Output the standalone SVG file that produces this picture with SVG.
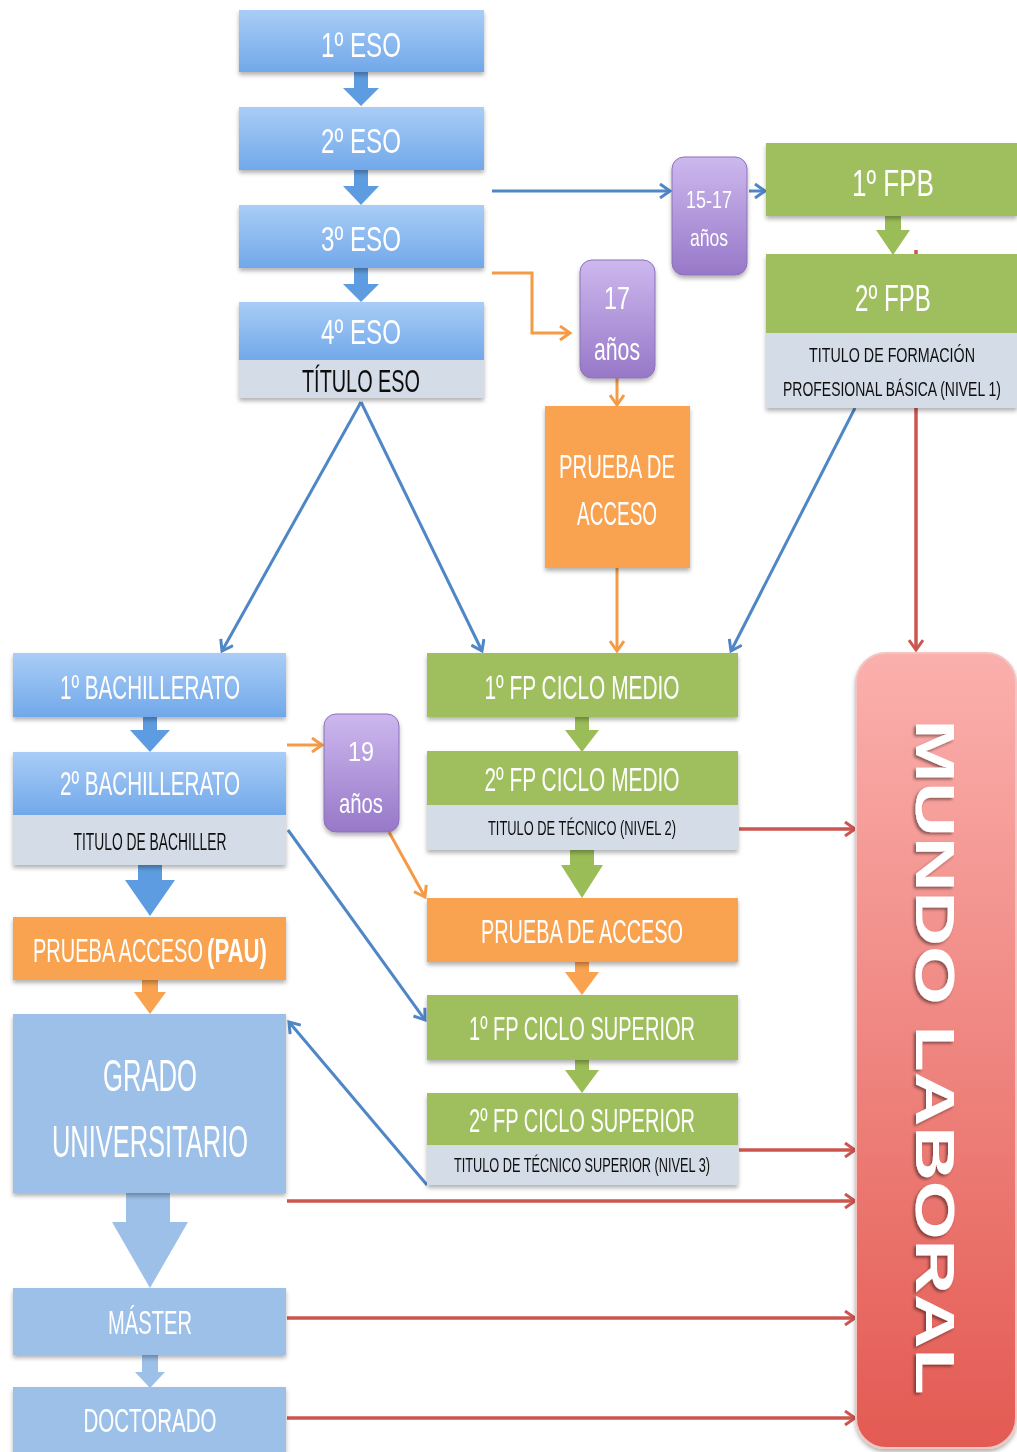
<svg xmlns="http://www.w3.org/2000/svg" width="1017" height="1452" viewBox="0 0 1017 1452">
<defs>
<style>
.t{font-family:"Liberation Sans Narrow","Liberation Sans",Arial,sans-serif;fill:#fff;text-anchor:middle}
.k{font-family:"Liberation Sans Narrow","Liberation Sans",Arial,sans-serif;fill:#111;text-anchor:middle}
.blue{fill:url(#gBlue)}
.flat{fill:#9cc0e8}
.gray{fill:#d3dce7}
.green{fill:#9fbe5d}
.orange{fill:#f9a24f}
.purple{fill:url(#gPurple);stroke:#8c70bb;stroke-width:1}
.cb{fill:none;stroke:#4f86c6;stroke-width:3}
.co{fill:none;stroke:#f59a45;stroke-width:3}
.cr{fill:none;stroke:#cc5550;stroke-width:3.5}
.ab{fill:#5d9ce0}
.ag{fill:#9bbd58}
.ao{fill:#f9a24f}
.af{fill:#9cc0e8}
</style>
<linearGradient id="gBlue" x1="0" y1="0" x2="0" y2="1">
<stop offset="0" stop-color="#a9cdf6"/><stop offset="1" stop-color="#71a8ea"/>
</linearGradient>
<linearGradient id="gPurple" x1="0" y1="0" x2="0" y2="1">
<stop offset="0" stop-color="#cdb8ee"/><stop offset="1" stop-color="#9778c8"/>
</linearGradient>
<linearGradient id="gRed" x1="0" y1="0" x2="0" y2="1">
<stop offset="0" stop-color="#fbb0ad"/><stop offset="1" stop-color="#e35a52"/>
</linearGradient>
<filter id="sh" x="-10%" y="-10%" width="120%" height="130%">
<feDropShadow dx="0" dy="3" stdDeviation="2" flood-color="#000" flood-opacity="0.3"/>
</filter>
<filter id="tsh" x="-10%" y="-10%" width="120%" height="130%">
<feDropShadow dx="2" dy="2" stdDeviation="1.5" flood-color="#000" flood-opacity="0.45"/>
</filter>
<marker id="mb" markerUnits="userSpaceOnUse" viewBox="0 0 16 16" refX="13" refY="8" markerWidth="16" markerHeight="16" orient="auto">
<path d="M3,1 L13,8 L3,15" fill="none" stroke="#4f86c6" stroke-width="3"/>
</marker>
<marker id="mo" markerUnits="userSpaceOnUse" viewBox="0 0 16 16" refX="13" refY="8" markerWidth="16" markerHeight="16" orient="auto">
<path d="M3,1 L13,8 L3,15" fill="none" stroke="#f59a45" stroke-width="3"/>
</marker>
<marker id="mr" markerUnits="userSpaceOnUse" viewBox="0 0 16 16" refX="13" refY="8" markerWidth="16" markerHeight="16" orient="auto">
<path d="M3,1 L13,8 L3,15" fill="none" stroke="#cc5550" stroke-width="3"/>
</marker>
</defs>
<rect width="1017" height="1452" fill="#fff"/>

<g id="connectors">
<path class="cr" d="M916,250 L916,650" marker-end="url(#mr)"/>
<path class="cb" d="M492,191 L670,191" marker-end="url(#mb)"/>
<path class="cb" d="M749,191 L765,191" marker-end="url(#mb)"/>
<path class="co" d="M492,273 L532,273 L532,333 L570,333" marker-end="url(#mo)"/>
<path class="co" d="M617,378 L617,405" marker-end="url(#mo)"/>
<path class="co" d="M617,568 L617,651" marker-end="url(#mo)"/>
<path class="cb" d="M361,402 L222,651" marker-end="url(#mb)"/>
<path class="cb" d="M361,402 L482,651" marker-end="url(#mb)"/>
<path class="cb" d="M855,408 L731,651" marker-end="url(#mb)"/>
<path class="co" d="M287,745 L322,745" marker-end="url(#mo)"/>
<path class="co" d="M389,832 L425,897" marker-end="url(#mo)"/>
<path class="cb" d="M288,830 L425,1020" marker-end="url(#mb)"/>
<path class="cb" d="M427,1185 L289,1022" marker-end="url(#mb)"/>
<path class="cr" d="M739,829 L855,829" marker-end="url(#mr)"/>
<path class="cr" d="M739,1150 L855,1150" marker-end="url(#mr)"/>
<path class="cr" d="M287,1201 L855,1201" marker-end="url(#mr)"/>
<path class="cr" d="M287,1318 L855,1318" marker-end="url(#mr)"/>
<path class="cr" d="M287,1418 L855,1418" marker-end="url(#mr)"/>
</g>

<g id="block-arrows">
<path class="ab" d="M354,72 H368 V88 H379 L361,106 L343,88 H354 Z"/>
<path class="ab" d="M354,170 H368 V186 H379 L361,205 L343,186 H354 Z"/>
<path class="ab" d="M354,268 H368 V284 H379 L361,302 L343,284 H354 Z"/>
<path class="ag" d="M885,216 H901 V230 H910 L893,255 L876,230 H885 Z"/>
<path class="ab" d="M143,717 H157 V730 H170 L150,752 L130,730 H143 Z"/>
<path class="ab" d="M138,865 H162 V880 H175 L150,916 L125,880 H138 Z"/>
<path class="ao" d="M142,980 H158 V992 H166 L150,1014 L134,992 H142 Z"/>
<path class="af" d="M126,1193 H170 V1222 H188 L150,1288 L112,1222 H126 Z"/>
<path class="af" d="M142,1355 H158 V1372 H165 L150,1388 L135,1372 H142 Z"/>
<path class="ag" d="M575,717 H589 V730 H599 L582,752 L565,730 H575 Z"/>
<path class="ag" d="M570,850 H594 V865 H603 L582,898 L561,865 H570 Z"/>
<path class="ao" d="M575,962 H589 V972 H599 L582,995 L565,972 H575 Z"/>
<path class="ag" d="M575,1060 H589 V1070 H599 L582,1093 L565,1070 H575 Z"/>
</g>

<g id="eso1" filter="url(#sh)">
<rect class="blue" x="239" y="10" width="245" height="62"/>
<text class="t" x="361" y="57" font-size="35" textLength="80" lengthAdjust="spacingAndGlyphs">1º ESO</text>
</g>
<g id="eso2" filter="url(#sh)">
<rect class="blue" x="239" y="107" width="245" height="63"/>
<text class="t" x="361" y="153" font-size="35" textLength="80" lengthAdjust="spacingAndGlyphs">2º ESO</text>
</g>
<g id="eso3" filter="url(#sh)">
<rect class="blue" x="239" y="205" width="245" height="63"/>
<text class="t" x="361" y="251" font-size="35" textLength="80" lengthAdjust="spacingAndGlyphs">3º ESO</text>
</g>
<g id="eso4" filter="url(#sh)">
<rect class="blue" x="239" y="302" width="245" height="58"/>
<rect class="gray" x="239" y="360" width="245" height="38"/>
<text class="t" x="361" y="344" font-size="35" textLength="80" lengthAdjust="spacingAndGlyphs">4º ESO</text>
<text class="k" x="361" y="392" font-size="31" textLength="118" lengthAdjust="spacingAndGlyphs">TÍTULO ESO</text>
</g>

<g id="edad1517" filter="url(#sh)">
<rect class="purple" x="672" y="157" width="75" height="118" rx="12"/>
<text class="t" x="709" y="208" font-size="24" textLength="46" lengthAdjust="spacingAndGlyphs">15-17</text>
<text class="t" x="709" y="246" font-size="24" textLength="38" lengthAdjust="spacingAndGlyphs">años</text>
</g>
<g id="edad17" filter="url(#sh)">
<rect class="purple" x="580" y="260" width="75" height="118" rx="12"/>
<text class="t" x="617" y="309" font-size="31" textLength="26" lengthAdjust="spacingAndGlyphs">17</text>
<text class="t" x="617" y="360" font-size="31" textLength="46" lengthAdjust="spacingAndGlyphs">años</text>
</g>

<g id="fpb1" filter="url(#sh)">
<rect class="green" x="766" y="143" width="251" height="73"/>
<text class="t" x="893" y="196" font-size="37" textLength="82" lengthAdjust="spacingAndGlyphs">1º FPB</text>
</g>
<g id="fpb2" filter="url(#sh)">
<rect class="green" x="766" y="254" width="251" height="79"/>
<rect class="gray" x="766" y="333" width="251" height="75"/>
<text class="t" x="893" y="311" font-size="37" textLength="76" lengthAdjust="spacingAndGlyphs">2º FPB</text>
<text class="k" transform="translate(892,362) scale(1,1.67)" font-size="12" textLength="166" lengthAdjust="spacingAndGlyphs">TITULO DE FORMACIÓN</text>
<text class="k" transform="translate(892,396) scale(1,1.67)" font-size="12" textLength="218" lengthAdjust="spacingAndGlyphs">PROFESIONAL BÁSICA (NIVEL 1)</text>
</g>

<g id="prueba-acceso-medio" filter="url(#sh)">
<rect class="orange" x="545" y="406" width="145" height="162"/>
<text class="t" x="617" y="478" font-size="34" textLength="116" lengthAdjust="spacingAndGlyphs">PRUEBA DE</text>
<text class="t" x="617" y="525" font-size="34" textLength="80" lengthAdjust="spacingAndGlyphs">ACCESO</text>
</g>

<g id="bach1" filter="url(#sh)">
<rect class="blue" x="13" y="653" width="273" height="64"/>
<text class="t" x="150" y="699" font-size="34" textLength="180" lengthAdjust="spacingAndGlyphs">1º BACHILLERATO</text>
</g>
<g id="bach2" filter="url(#sh)">
<rect class="blue" x="13" y="752" width="273" height="63"/>
<rect class="gray" x="13" y="815" width="273" height="50"/>
<text class="t" transform="translate(150,795) scale(1,1.7)" font-size="20" textLength="180" lengthAdjust="spacingAndGlyphs">2º BACHILLERATO</text>
<text class="k" x="150" y="850" font-size="23" textLength="153" lengthAdjust="spacingAndGlyphs">TITULO DE BACHILLER</text>
</g>
<g id="pau" filter="url(#sh)">
<rect class="orange" x="13" y="917" width="273" height="63"/>
<text class="t" transform="translate(118,962) scale(1,2.125)" font-size="16" textLength="170" lengthAdjust="spacingAndGlyphs">PRUEBA ACCESO</text>
<text class="t" transform="translate(237,962) scale(1,2.125)" font-size="16" font-weight="bold" textLength="60" lengthAdjust="spacingAndGlyphs">(PAU)</text>
</g>
<g id="grado" filter="url(#sh)">
<rect class="flat" x="13" y="1014" width="273" height="179"/>
<text class="t" x="150" y="1091" font-size="44" textLength="94" lengthAdjust="spacingAndGlyphs">GRADO</text>
<text class="t" x="150" y="1157" font-size="44" textLength="196" lengthAdjust="spacingAndGlyphs">UNIVERSITARIO</text>
</g>
<g id="master" filter="url(#sh)">
<rect class="flat" x="13" y="1288" width="273" height="67"/>
<text class="t" x="150" y="1334" font-size="34" textLength="84" lengthAdjust="spacingAndGlyphs">MÁSTER</text>
</g>
<g id="doctorado" filter="url(#sh)">
<rect class="flat" x="13" y="1387" width="273" height="70"/>
<text class="t" x="150" y="1432" font-size="34" textLength="133" lengthAdjust="spacingAndGlyphs">DOCTORADO</text>
</g>

<g id="edad19" filter="url(#sh)">
<rect class="purple" x="324" y="714" width="75" height="118" rx="12"/>
<text class="t" x="361" y="761" font-size="28" textLength="26" lengthAdjust="spacingAndGlyphs">19</text>
<text class="t" x="361" y="813" font-size="28" textLength="44" lengthAdjust="spacingAndGlyphs">años</text>
</g>

<g id="fpcm1" filter="url(#sh)">
<rect class="green" x="427" y="653" width="311" height="64"/>
<text class="t" x="582" y="699" font-size="34" textLength="195" lengthAdjust="spacingAndGlyphs">1º FP CICLO MEDIO</text>
</g>
<g id="fpcm2" filter="url(#sh)">
<rect class="green" x="427" y="751" width="311" height="54"/>
<rect class="gray" x="427" y="805" width="311" height="45"/>
<text class="t" x="582" y="791" font-size="34" textLength="195" lengthAdjust="spacingAndGlyphs">2º FP CICLO MEDIO</text>
<text class="k" x="582" y="835" font-size="21" textLength="188" lengthAdjust="spacingAndGlyphs">TITULO DE TÉCNICO (NIVEL 2)</text>
</g>
<g id="prueba-acceso-superior" filter="url(#sh)">
<rect class="orange" x="427" y="898" width="311" height="64"/>
<text class="t" x="582" y="943" font-size="34" textLength="202" lengthAdjust="spacingAndGlyphs">PRUEBA DE ACCESO</text>
</g>
<g id="fpcs1" filter="url(#sh)">
<rect class="green" x="427" y="995" width="311" height="65"/>
<text class="t" x="582" y="1040" font-size="34" textLength="226" lengthAdjust="spacingAndGlyphs">1º FP CICLO SUPERIOR</text>
</g>
<g id="fpcs2" filter="url(#sh)">
<rect class="green" x="427" y="1093" width="311" height="52"/>
<rect class="gray" x="427" y="1145" width="311" height="40"/>
<text class="t" x="582" y="1132" font-size="34" textLength="226" lengthAdjust="spacingAndGlyphs">2º FP CICLO SUPERIOR</text>
<text class="k" x="582" y="1172" font-size="21" textLength="256" lengthAdjust="spacingAndGlyphs">TITULO DE TÉCNICO SUPERIOR (NIVEL 3)</text>
</g>

<g id="mundo-laboral" filter="url(#sh)">
<rect x="856" y="653" width="160" height="795" rx="30" fill="url(#gRed)" stroke="#f2c4c2" stroke-width="2"/>
<text x="0" y="0" transform="translate(916,1057) rotate(90)" font-family="'Liberation Sans',Arial,sans-serif" font-weight="bold" font-size="56" fill="#fff" text-anchor="middle" textLength="675" lengthAdjust="spacingAndGlyphs" filter="url(#tsh)">MUNDO LABORAL</text>
</g>
</svg>
